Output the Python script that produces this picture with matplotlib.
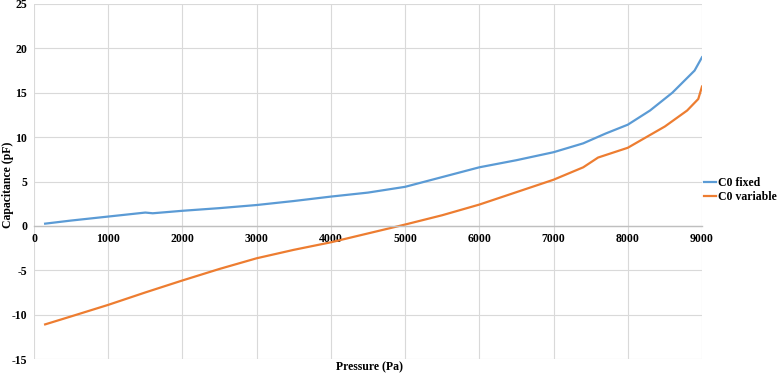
import matplotlib
matplotlib.use("Agg")
import matplotlib.pyplot as plt

# data
p_fixed = [150, 500, 1000, 1500, 1600, 2000, 2500, 3000, 3500, 4000, 4500, 5000,
           5500, 6000, 6500, 7000, 7400, 7700, 8000, 8300, 8600, 8900, 9000]
c_fixed = [0.25, 0.6, 1.05, 1.5, 1.42, 1.7, 2.0, 2.35, 2.8, 3.3, 3.75, 4.4,
           5.5, 6.6, 7.4, 8.3, 9.3, 10.4, 11.4, 13.0, 15.0, 17.5, 19.0]

p_var = [150, 500, 1000, 1500, 2000, 2500, 3000, 3500, 4000, 4500, 5000, 5500,
         6000, 6500, 7000, 7400, 7600, 8000, 8500, 8800, 8950, 9000]
c_var = [-11.1, -10.2, -8.9, -7.5, -6.15, -4.85, -3.65, -2.7, -1.85, -0.85, 0.15, 1.2,
         2.4, 3.8, 5.2, 6.6, 7.7, 8.8, 11.2, 13.0, 14.3, 15.7]

labels = ["C0 fixed", "C0 variable"]
xticks = list(range(0, 9001, 1000))
yticks = list(range(-15, 26, 5))

plt.rcParams["font.family"] = ["Liberation Serif", "DejaVu Serif"]
plt.rcParams["font.weight"] = "bold"
plt.rcParams["axes.unicode_minus"] = False

fig = plt.figure(figsize=(7.77, 3.76), dpi=100)
ax = fig.add_axes([34 / 777, 1 - 359 / 376, (702 - 34) / 777, (359 - 4) / 376])

ax.plot(p_fixed, c_fixed, color="#5B9BD5", lw=1.6, label=labels[0])
ax.plot(p_var, c_var, color="#ED7D31", lw=1.6, label=labels[1])

ax.set_xlim(0, 9000)
ax.set_ylim(-15, 25)
ax.set_xticks(xticks)
ax.set_yticks(yticks)
ax.grid(True, color="#d9d9d9", lw=0.8)
ax.set_axisbelow(True)

for s in ["top", "right", "left"]:
    ax.spines[s].set_visible(False)
ax.spines["bottom"].set_position(("data", 0))
ax.spines["bottom"].set_color("#bfbfbf")
ax.spines["bottom"].set_linewidth(1.0)
ax.tick_params(length=0, labelsize=8.5, pad=5)
for t in ax.get_xticklabels() + ax.get_yticklabels():
    t.set_fontweight("bold")

fig.text(370 / 777, 1 - 367 / 376, "Pressure (Pa)", ha="center", va="center",
         fontsize=8.5, fontweight="bold")
fig.text(8 / 777, 1 - 185 / 376, "Capacitance (pF)", ha="center", va="center",
         rotation=90, fontsize=8.5, fontweight="bold")

fig.legend(loc="center left", bbox_to_anchor=(704 / 777, 1 - 190 / 376),
           frameon=False, fontsize=8.5, handlelength=1.0, handletextpad=0.2,
           labelspacing=0.2, borderaxespad=0, borderpad=0)

fig.savefig("out.png", dpi=100)
